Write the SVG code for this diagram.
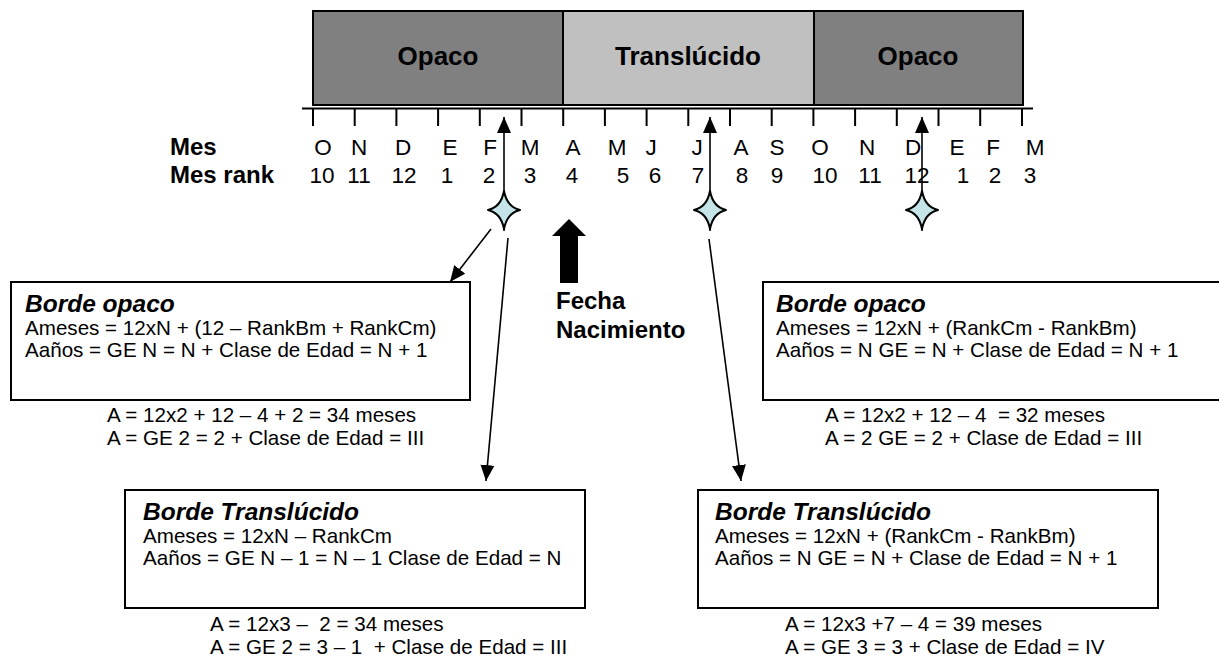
<svg xmlns="http://www.w3.org/2000/svg" xmlns:xlink="http://www.w3.org/1999/xlink" width="1219" height="659" viewBox="0 0 1219 659">
<style>
text{font-family:"Liberation Sans",Arial,sans-serif;fill:#000;white-space:pre}
.band{font-size:26px;font-weight:bold;text-anchor:middle}
.lbl{font-size:24px;font-weight:bold}
.m{font-size:22.5px;text-anchor:middle}
.t{font-size:24.5px;font-weight:bold;font-style:italic}
.b{font-size:20.6px}
.box{fill:#fff;stroke:#000;stroke-width:2}
.tick{stroke:#000;stroke-width:2}
.con{stroke:#000;stroke-width:1.6;fill:none}
.star{fill:#c4e4e8;stroke:#000;stroke-width:2;stroke-linejoin:round}
</style>
<defs>
<marker id="ah" markerUnits="userSpaceOnUse" markerWidth="16" markerHeight="14" refX="16" refY="7" orient="auto" viewBox="0 0 16 14">
<path d="M0,0 L16,7 L0,14 Z" fill="#000"/>
</marker>
<path id="starShape" d="M0,-19 Q3,-3 16,0 Q3,3 0,19 Q-3,3 -16,0 Q-3,-3 0,-19 Z"/>
</defs>

<g id="bar">
<rect x="313" y="11" width="250" height="94" fill="#808080" stroke="#000" stroke-width="2"/>
<rect x="563" y="11" width="251" height="94" fill="#c0c0c0" stroke="#000" stroke-width="2"/>
<rect x="814" y="11" width="209" height="94" fill="#808080" stroke="#000" stroke-width="2"/>
<text class="band" x="438" y="65">Opaco</text>
<text class="band" x="688" y="65">Translúcido</text>
<text class="band" x="918" y="65">Opaco</text>
</g>

<g id="axis">
<line x1="302" y1="108.5" x2="1033" y2="108.5" stroke="#000" stroke-width="2"/>
<path class="tick" d="M313,108V126 M354.7,108V126 M396.4,108V126 M438.1,108V126 M479.8,108V126 M521.5,108V126 M563.2,108V126 M604.9,108V126 M646.6,108V126 M688.3,108V126 M730,108V126 M771.7,108V126 M813.4,108V126 M855.1,108V126 M896.8,108V126 M938.5,108V126 M980.2,108V126 M1022,108V126"/>
</g>

<g id="labels">
<text class="lbl" x="170" y="155">Mes</text>
<text class="lbl" x="170" y="183">Mes rank</text>
<text class="m" y="155"><tspan x="323">O</tspan><tspan x="359">N</tspan><tspan x="403">D</tspan><tspan x="450">E</tspan><tspan x="490">F</tspan><tspan x="530">M</tspan><tspan x="573">A</tspan><tspan x="617">M</tspan><tspan x="651">J</tspan><tspan x="697">J</tspan><tspan x="741">A</tspan><tspan x="777">S</tspan><tspan x="820">O</tspan><tspan x="867">N</tspan><tspan x="913">D</tspan><tspan x="957">E</tspan><tspan x="993">F</tspan><tspan x="1035">M</tspan></text>
<text class="m" y="183"><tspan x="322">10</tspan><tspan x="359">11</tspan><tspan x="404">12</tspan><tspan x="447">1</tspan><tspan x="489">2</tspan><tspan x="530">3</tspan><tspan x="572">4</tspan><tspan x="623">5</tspan><tspan x="655">6</tspan><tspan x="698">7</tspan><tspan x="742">8</tspan><tspan x="777">9</tspan><tspan x="825">10</tspan><tspan x="870">11</tspan><tspan x="917">12</tspan><tspan x="963">1</tspan><tspan x="995">2</tspan><tspan x="1030">3</tspan></text>
</g>

<g id="connectors">
<line class="con" x1="504" y1="231" x2="504" y2="117" marker-end="url(#ah)"/>
<line class="con" x1="710" y1="231" x2="710" y2="117" marker-end="url(#ah)"/>
<line class="con" x1="922" y1="231" x2="922" y2="117" marker-end="url(#ah)"/>
<line class="con" x1="491" y1="229" x2="450" y2="282" marker-end="url(#ah)"/>
<line class="con" x1="508" y1="238" x2="486" y2="481" marker-end="url(#ah)"/>
<line class="con" x1="709" y1="239" x2="741" y2="481" marker-end="url(#ah)"/>
</g>

<g id="stars">
<use xlink:href="#starShape" class="star" x="504" y="210"/>
<use xlink:href="#starShape" class="star" x="710" y="210"/>
<use xlink:href="#starShape" class="star" x="922" y="210"/>
</g>

<g id="fecha">
<path d="M569,219 L586,236 L578,236 L578,283 L560,283 L560,236 L552,236 Z" fill="#000"/>
<text class="lbl" x="556" y="309">Fecha</text>
<text class="lbl" x="556" y="338">Nacimiento</text>
</g>

<g id="box-opaco-left">
<rect class="box" x="11" y="282" width="459" height="118"/>
<text class="t" x="25" y="312">Borde opaco</text>
<text class="b" x="25" y="335">Ameses = 12xN + (12 – RankBm + RankCm)</text>
<text class="b" x="25" y="357">Aaños = GE N = N + Clase de Edad = N + 1</text>
<text class="b" x="107" y="422">A = 12x2 + 12 – 4 + 2 = 34 meses</text>
<text class="b" x="107" y="445">A = GE 2 = 2 + Clase de Edad = III</text>
</g>

<g id="box-opaco-right">
<rect class="box" x="763" y="282" width="470" height="118"/>
<text class="t" x="776" y="312">Borde opaco</text>
<text class="b" x="776" y="335">Ameses = 12xN + (RankCm - RankBm)</text>
<text class="b" x="776" y="357">Aaños = N GE = N + Clase de Edad = N + 1</text>
<text class="b" x="825" y="422">A = 12x2 + 12 – 4  = 32 meses</text>
<text class="b" x="825" y="445">A = 2 GE = 2 + Clase de Edad = III</text>
</g>

<g id="box-transl-left">
<rect class="box" x="125" y="490" width="460" height="118"/>
<text class="t" x="143" y="520">Borde Translúcido</text>
<text class="b" x="143" y="543">Ameses = 12xN – RankCm</text>
<text class="b" x="143" y="565">Aaños = GE N – 1 = N – 1 Clase de Edad = N</text>
<text class="b" x="210" y="631">A = 12x3 –  2 = 34 meses</text>
<text class="b" x="210" y="654">A = GE 2 = 3 – 1  + Clase de Edad = III</text>
</g>

<g id="box-transl-right">
<rect class="box" x="698" y="490" width="460" height="118"/>
<text class="t" x="715" y="520">Borde Translúcido</text>
<text class="b" x="715" y="543">Ameses = 12xN + (RankCm - RankBm)</text>
<text class="b" x="715" y="565">Aaños = N GE = N + Clase de Edad = N + 1</text>
<text class="b" x="785" y="631">A = 12x3 +7 – 4 = 39 meses</text>
<text class="b" x="785" y="654">A = GE 3 = 3 + Clase de Edad = IV</text>
</g>
</svg>
